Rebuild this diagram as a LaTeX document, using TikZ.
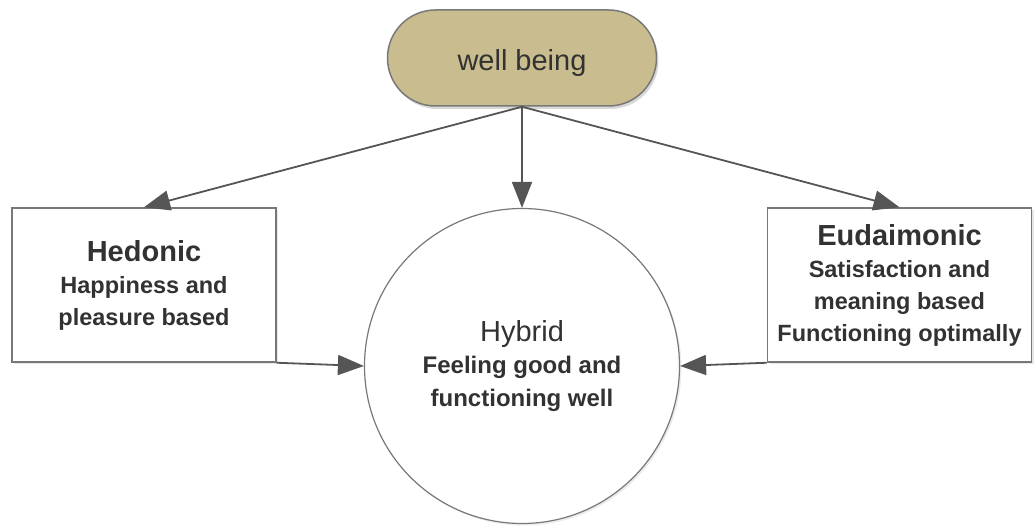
\documentclass[tikz,border=0pt]{standalone}
\usepackage{fontspec}
\setmainfont{Liberation Sans}
\usetikzlibrary{arrows.meta,shapes.misc,shadows}
\definecolor{tan}{RGB}{201,188,142}
\definecolor{edgegray}{RGB}{120,120,120}
\definecolor{arrgray}{RGB}{85,85,85}
\definecolor{txt}{RGB}{50,50,50}
\tikzset{
  pill/.style={rounded rectangle, draw=edgegray, line width=1.5pt, fill=tan,
    minimum width=269pt, minimum height=96pt, inner sep=0pt,
    drop shadow={opacity=0.3, shadow xshift=2pt, shadow yshift=-3pt},
    text=txt, font=\fontsize{29}{32}\selectfont},
  sidebox/.style={rectangle, draw=edgegray, line width=1.5pt, fill=white,
    minimum width=264pt, minimum height=154pt, inner sep=0pt, align=center,
    drop shadow={opacity=0.2, shadow xshift=2pt, shadow yshift=-2pt},
    text=txt, font=\fontsize{23.5}{32}\selectfont\bfseries},
  hybcircle/.style={circle, draw=edgegray, line width=1.2pt, fill=white,
    minimum size=315pt, inner sep=0pt, align=center,
    drop shadow={opacity=0.15, shadow xshift=2pt, shadow yshift=-2pt},
    text=txt, font=\fontsize{24}{32.5}\selectfont\bfseries},
  conn/.style={draw=arrgray, line width=1.8pt, -{Triangle[length=26pt,width=20pt]}},
}
\begin{document}
\begin{tikzpicture}[x=1pt,y=-1pt]
\useasboundingbox (0,0) rectangle (1034,526);
\node[pill] (wb) at (522,58) {\raisebox{-5pt}[\height][\depth]{well being}};
\node[sidebox] (hed) at (144,285) {{\fontsize{29}{32}\selectfont Hedonic}\\Happiness and\\pleasure based};
\node[sidebox] (eud) at (899.5,285) {{\fontsize{29}{32}\selectfont Eudaimonic}\\Satisfaction and\\meaning based\\Functioning optimally};
\node[hybcircle] (hyb) at (522,366) {{\fontsize{29}{32}\selectfont\mdseries Hybrid}\\Feeling good and\\functioning well};
\draw[conn] (wb.south) -- (hed.north);
\draw[conn] (wb.south) -- (hyb.north);
\draw[conn] (wb.south) -- (eud.north);
\draw[conn] (hed.south east) -- (hyb.west);
\draw[conn] (eud.south west) -- (hyb.east);
\end{tikzpicture}
\end{document}
